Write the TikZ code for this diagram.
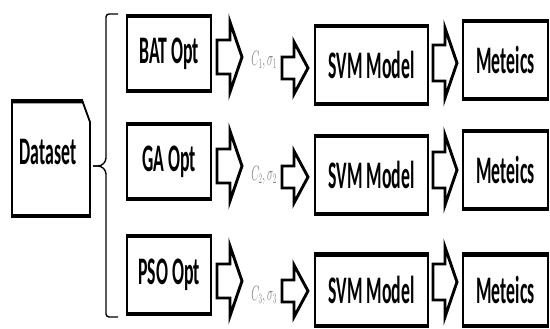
\documentclass[tikz,border=0pt]{standalone}
\usepackage{fontspec}
\setmainfont{Carlito}
\usepackage{graphicx}
\begin{document}
\begin{tikzpicture}[x=1pt,y=-1pt,
  boxtext/.style={font=\fontsize{39}{41}\selectfont\bfseries, inner sep=0pt},
  boxline/.style={draw=black, line width=1.8pt, fill=white},
  band/.style={fill=black},
  blockarrow/.style={draw=black, fill=white, line width=2.9pt, line join=miter},
  brace/.style={draw=black, line width=1.4pt, rounded corners=3pt},
  param/.style={text=black!50, inner sep=0pt, font=\fontsize{22}{24}\selectfont}]
\useasboundingbox (0,0) rectangle (550,329);
\fill[white] (0,0) rectangle (550,329);

\newcommand{\sq}[1]{\scalebox{0.455}[1]{#1}}
% box: name, x1, y1, x2, y2, text
\newcommand{\mybox}[6]{%
  \path[boxline] (#2,#3) rectangle (#4,#5);
  \fill[band] (#2-0.9,#3-0.9) rectangle (#4+0.9,#3+3.5);
  \fill[band] (#2-0.9,#5-3.2) rectangle (#4+0.9,#5+0.9);
  \node[boxtext] (#1) at ({(#2+#4)/2},{(#3+#5)/2}) {\sq{#6}};
}
% arrow: x0, xb, xt, cy, shaft half, head half
\newcommand{\barrow}[6]{%
  \path[blockarrow] (#1,#4-#5) -- (#2,#4-#5) -- (#2,#4-#6) -- (#3,#4)
    -- (#2,#4+#6) -- (#2,#4+#5) -- (#1,#4+#5) -- cycle;
}

% Dataset (chamfered card)
\path[boxline] (12,100) -- (82,100) -- (90,122) -- (90,217) -- (12,217) -- cycle;
\fill[band] (11.1,99.1) -- (82.5,99.1) -- (84,103.5) -- (11.1,103.5) -- cycle;
\fill[band] (11.1,214) rectangle (90.9,217.9);
\node[boxtext] (dataset) at (48,152) {\sq{Dataset}};

% brace
\coordinate (bt) at (118,14);
\coordinate (bb) at (118,317);
\coordinate (bm) at (93,166);
\draw[brace] (bt) -- (106,14) -- (106,161) -- (101,166) -- (bm);
\draw[brace] (bm) -- (101,166) -- (106,171) -- (106,317) -- (bb);

% row 1
\mybox{bat}{127}{15}{211}{92}{BAT Opt}
\barrow{217}{230}{242}{57}{17}{35}
\node[param] (p1) at (264,60) {\scalebox{0.5}[1]{$C_1,\sigma_1$}};
\barrow{282}{294}{308}{68}{11}{26}
\mybox{svm1}{315}{25}{428}{105}{SVM Model}
\barrow{433}{445}{457}{63}{18}{35}
\mybox{met1}{463}{20}{548}{100}{Meteics}

% row 2
\mybox{ga}{127}{123}{211}{200}{GA Opt}
\barrow{217}{230}{242}{166}{17}{35}
\node[param] (p2) at (264,175) {\scalebox{0.5}[1]{$C_2,\sigma_2$}};
\barrow{282}{294}{308}{177}{11}{26}
\mybox{svm2}{315}{135}{428}{215}{SVM Model}
\barrow{433}{445}{457}{170}{18}{35}
\mybox{met2}{463}{130}{548}{210}{Meteics}

% row 3
\mybox{pso}{127}{235}{211}{315}{PSO Opt}
\barrow{217}{230}{242}{281}{17}{35}
\node[param] (p3) at (264,295) {\scalebox{0.5}[1]{$C_3,\sigma_3$}};
\barrow{282}{294}{308}{291}{11}{26}
\mybox{svm3}{315}{253}{428}{327}{SVM Model}
\barrow{433}{445}{457}{282}{18}{35}
\mybox{met3}{463}{253}{548}{327}{Meteics}
\end{tikzpicture}
\end{document}
